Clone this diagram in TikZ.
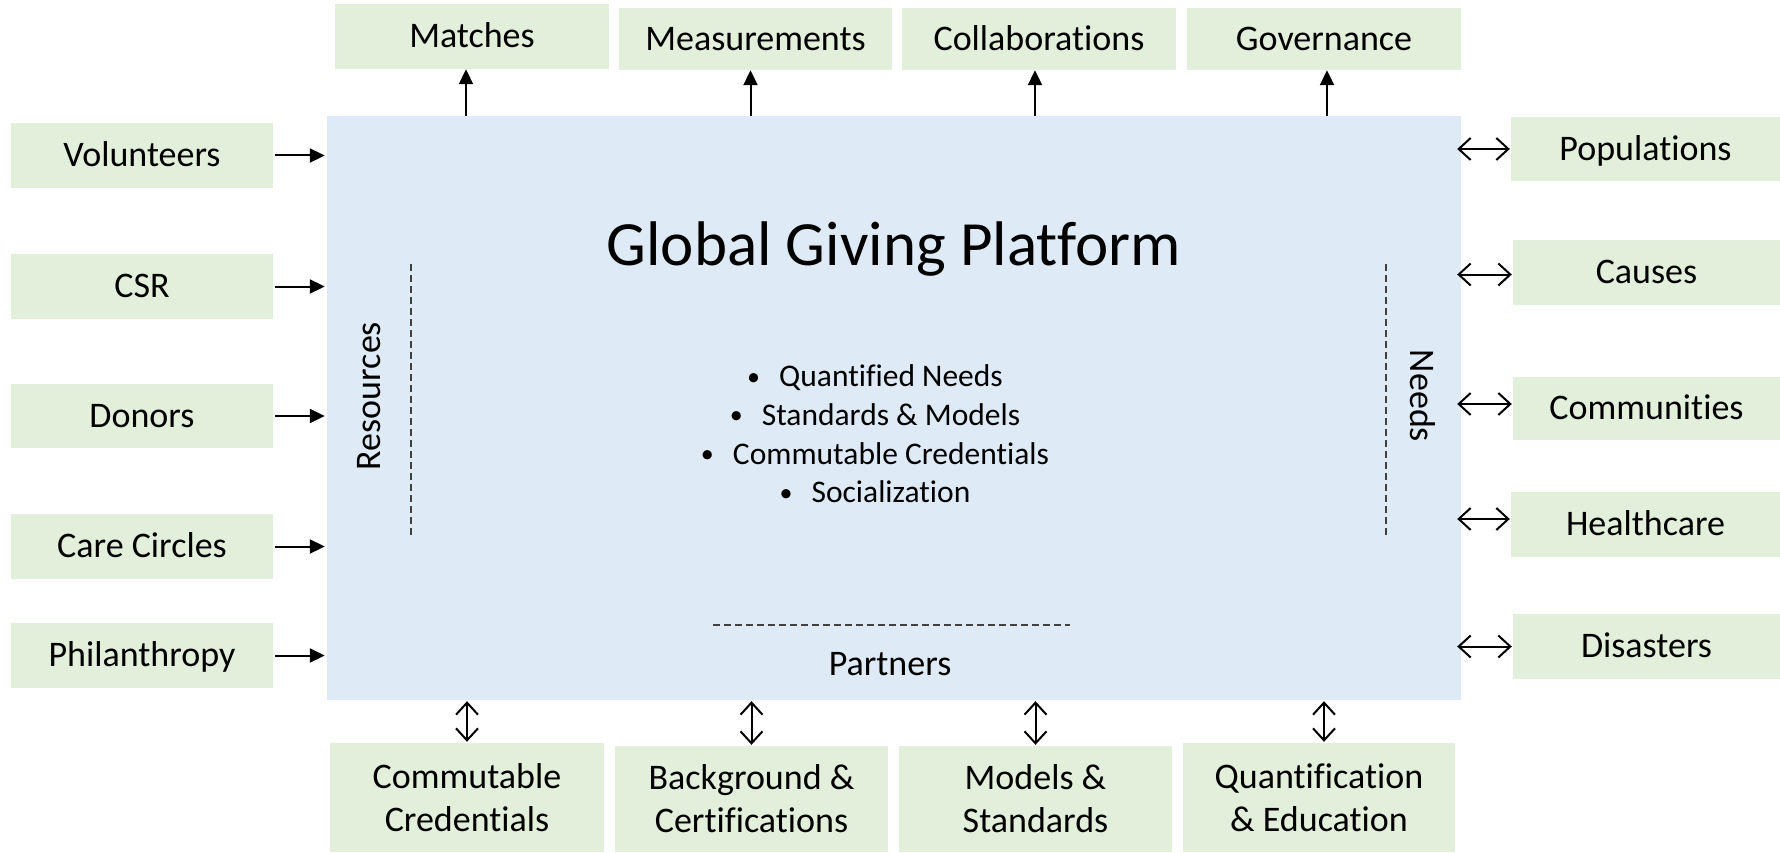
\documentclass[tikz,border=0pt]{standalone}
\usepackage{fontspec}
\setmainfont{Carlito}[Ligatures={NoCommon}]
\usetikzlibrary{arrows.meta,calc}
\definecolor{gfill}{HTML}{E2EFDA}
\definecolor{bfill}{HTML}{DEEBF7}
\definecolor{dashc}{HTML}{404040}
\newcommand{\smallbul}{\makebox[32pt][l]{\raisebox{1.5pt}{\fontsize{26}{26}\selectfont •}}}
\begin{document}
\begin{tikzpicture}[x=1pt,y=-1pt,
  gbox/.style={fill=gfill, inner sep=0pt, font=\fontsize{36}{42}\selectfont, text height=22.7pt, text depth=0pt},
  gbox2/.style={fill=gfill, inner sep=0pt, font=\fontsize{36}{43}\selectfont, align=center},
  tri/.style={line width=2pt, -{Triangle[length=15pt,width=14pt]}},
  dbl/.style={line width=2pt, {Straight Barb[length=12pt,width=22pt]}-{Straight Barb[length=12pt,width=22pt]}},
  dline/.style={line width=1.3pt, dashc, dash pattern=on 7pt off 4pt},
  lbl/.style={font=\fontsize{36}{42}\selectfont, inner sep=0pt, anchor=base},
  bul/.style={font=\fontsize{31.5}{38.7}\selectfont, inner sep=0pt, anchor=base},
]
\useasboundingbox (0,0) rectangle (1780,853);

% main platform box
\node[fill=bfill, minimum width=1134pt, minimum height=584pt, inner sep=0pt] (main) at (894,408) {};

% left boxes
\node[gbox, minimum width=262pt, minimum height=65pt] (vol) at (142,155.5) {Volunteers};
\node[gbox, minimum width=262pt, minimum height=65pt] (csr) at (142,286.5) {CSR};
\node[gbox, minimum width=262pt, minimum height=64pt] (don) at (142,416) {Donors};
\node[gbox, minimum width=262pt, minimum height=65pt] (care) at (142,546.5) {Care Circles};
\node[gbox, minimum width=262pt, minimum height=65pt] (phil) at (142,655.5) {Philanthropy};

% right boxes
\node[gbox, minimum width=269pt, minimum height=64pt] (pop) at (1645.5,149) {Populations};
\node[gbox, minimum width=267pt, minimum height=65pt] (cau) at (1646.5,272.5) {Causes};
\node[gbox, minimum width=267pt, minimum height=63pt] (com) at (1646.5,408.5) {Communities};
\node[gbox, minimum width=269pt, minimum height=65pt] (hc) at (1645.5,524.5) {Healthcare};
\node[gbox, minimum width=267pt, minimum height=65pt] (dis) at (1646.5,646.5) {Disasters};

% top boxes
\node[gbox, minimum width=274pt, minimum height=65pt] (mat) at (472,36.5) {Matches};
\node[gbox, minimum width=273pt, minimum height=62pt] (mea) at (755.5,39) {Measurements};
\node[gbox, minimum width=274pt, minimum height=62pt] (col) at (1039,39) {Collaborations};
\node[gbox, minimum width=274pt, minimum height=62pt] (gov) at (1324,39) {Governance};

% bottom boxes
\node[gbox2, minimum width=274pt, minimum height=109pt] (cc) at (467,797.5) {Commutable\\Credentials};
\node[gbox2, minimum width=273pt, minimum height=106pt] (bc) at (751.5,799) {Background \&\\Certifications};
\node[gbox2, minimum width=273pt, minimum height=106pt] (ms) at (1035.5,799) {Models \&\\Standards};
\node[gbox2, minimum width=272pt, minimum height=109pt] (qe) at (1319,797.5) {Quantification\\\& Education};

% texts inside the platform
\node[inner sep=0pt, anchor=base, font=\fontsize{63}{75}\selectfont] (title) at (894,265) {Global Giving Platform};
\node[bul] (b1) at (875,386.7) {\smallbul Quantified Needs};
\node[bul] (b2) at (875,425.4) {\smallbul Standards \& Models};
\node[bul] (b3) at (875,464.1) {\smallbul Commutable Credentials};
\node[bul] (b4) at (875,502.7) {\smallbul Socialization};
\node[lbl, rotate=90] (res) at (380,396) {Resources};
\node[lbl, rotate=-90] (needs) at (1410,396) {Needs};
\node[lbl] (part) at (890,675) {Partners};

% dashed separators
\coordinate (dl1) at (411,264); \coordinate (dl2) at (411,536);
\coordinate (dr1) at (1386,264); \coordinate (dr2) at (1386,536);
\coordinate (dh1) at (713,625); \coordinate (dh2) at (1070,625);
\draw[dline] (dl1) -- (dl2);
\draw[dline] (dr1) -- (dr2);
\draw[dline] (dh1) -- (dh2);

% left arrows
\foreach \n in {vol,csr,don,care,phil}
  \draw[tri, shorten <=2pt, shorten >=2pt] (\n.east) -- (\n.east -| main.west);
% top arrows
\foreach \n/\dx in {mat/-6,mea/-5,col/-4,gov/3}
  \draw[tri] ($(main.north -| \n.south)+(\dx,0)$) -- ($(\n.south)+(\dx,0)$);
% right arrows
\foreach \n/\dy in {pop/0,cau/2,com/-4.5,hc/-5.5,dis/0}
  \draw[dbl, shorten <=-4pt, shorten >=1pt] ($(main.east |- \n.west)+(0,\dy)$) -- ($(\n.west)+(0,\dy)$);
% bottom arrows
\foreach \n/\dx in {cc/0,bc/0,ms/0,qe/5}
  \draw[dbl, shorten <=1pt, shorten >=1pt] ($(main.south -| \n.north)+(\dx,0)$) -- ($(\n.north)+(\dx,0)$);
\end{tikzpicture}
\end{document}
